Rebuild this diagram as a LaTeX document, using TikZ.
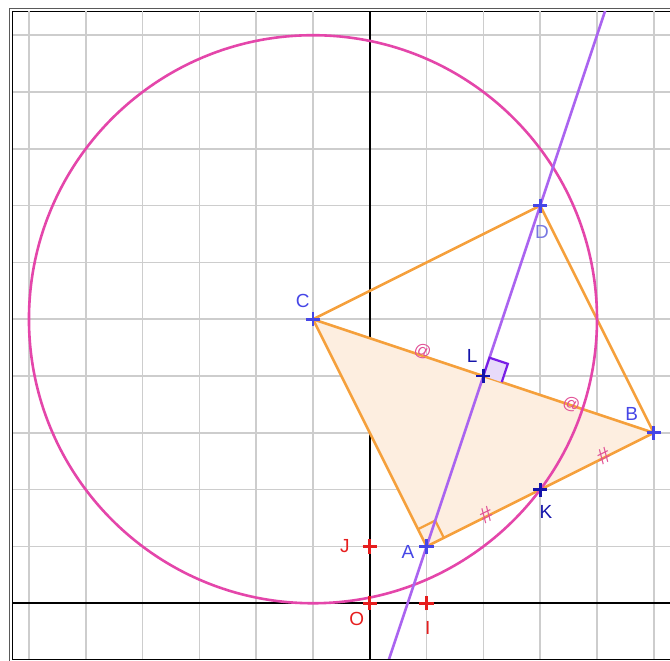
\documentclass[tikz,border=0pt]{standalone}
\usepackage{fontspec}
\setmainfont{Liberation Sans}
\usetikzlibrary{calc}
\definecolor{gridc}{RGB}{205,205,205}
\definecolor{orangec}{RGB}{245,160,60}
\definecolor{fillc}{RGB}{253,238,224}
\definecolor{circc}{RGB}{228,70,170}
\definecolor{purplec}{RGB}{170,100,240}
\definecolor{bluec}{RGB}{70,70,230}
\definecolor{darkc}{RGB}{20,20,170}
\definecolor{redc}{RGB}{230,30,30}
\definecolor{dlabc}{RGB}{120,120,225}
\definecolor{tickc}{RGB}{225,80,150}
\definecolor{raLc}{RGB}{120,30,230}
\definecolor{raLfill}{RGB}{232,218,250}
\definecolor{framec}{RGB}{90,90,90}
\begin{document}
\begin{tikzpicture}[x=1cm,y=1cm,
  gridline/.style={draw=gridc,line width=0.75pt},
  axisline/.style={draw=black,line width=1.2pt},
  orangeedge/.style={draw=orangec,line width=1.3pt,line join=round},
  circ/.style={draw=circc,line width=1.3pt},
  purpleline/.style={draw=purplec,line width=1.3pt},
  crossblue/.style={draw=bluec,line width=1.4pt},
  crossdark/.style={draw=darkc,line width=1.4pt},
  crossred/.style={draw=redc,line width=1.4pt},
  lblblue/.style={text=bluec,font=\fontsize{9.5}{11}\selectfont,inner sep=0pt},
  lbldark/.style={text=darkc,font=\fontsize{9.5}{11}\selectfont,inner sep=0pt},
  lblD/.style={text=dlabc,font=\fontsize{9.5}{11}\selectfont,inner sep=0pt},
  lblred/.style={text=redc,font=\fontsize{9.5}{11}\selectfont,inner sep=0pt},
  atmark/.style={text=tickc,font=\fontsize{8.5}{9}\selectfont,inner sep=0pt},
  hashmark/.style={text=tickc,font=\fontsize{11}{12}\selectfont,inner sep=0pt}
]
\useasboundingbox (-6.51,-1.0) rectangle (5.285,10.62);
% frame
\draw[line width=0.6pt,draw=framec] (5.4,10.475) -| (-6.347,-1.1);
\draw[line width=0.6pt] (5.4,10.42) -| (-6.294,-0.986) -- (5.4,-0.986);
\begin{scope}
\clip (-6.28,-0.975) rectangle (5.4,10.41);
\foreach \x in {-6,...,5} \draw[gridline] (\x,-1.2) -- (\x,10.7);
\foreach \y in {-1,...,10} \draw[gridline] (-6.5,\y) -- (5.4,\y);
\draw[axisline] (0,-1.2) -- (0,10.7);
\draw[axisline] (-6.5,0) -- (5.4,0);
% points
\coordinate (O) at (0,0);
\coordinate (I) at (1,0);
\coordinate (J) at (0,1);
\coordinate (A) at (1,1);
\coordinate (B) at (5,3);
\coordinate (C) at (-1,5);
\coordinate (D) at (3,7);
\coordinate (K) at (3,2);
\coordinate (L) at (2,4);
\coordinate (Lbot) at ({1/3},-1);
\coordinate (Ltop) at ({2+6.7/3},10.7);
% triangle fill
\fill[fillc] (A) -- (B) -- (C) -- cycle;
% quadrilateral and diagonal
\draw[orangeedge] (A) -- (K) -- (B) -- (D) -- (C) -- (A);
\draw[orangeedge] (C) -- (L) -- (B);
% right angle at A
\draw[orangeedge,line width=1.1pt] ($(A)!0.34cm!(B)$) -- ++(-0.152,0.304) -- ($(A)!0.34cm!(C)$);
% circle
\draw[circ] (C) circle (5);
% purple line
\draw[purpleline] (Lbot) -- (Ltop);
% right angle at L
\draw[draw=raLc,fill=raLfill,line width=1.1pt]
  (L) -- ++(0.1075,0.3225) -- ++(0.3225,-0.1075) -- ++(-0.1075,-0.3225);
% equal marks
\node[atmark,rotate=-18.43] (m1) at (0.93,4.43) {@};
\node[atmark,rotate=-18.43] (m2) at (3.55,3.5) {@};
\node[hashmark,rotate=26.57] (m3) at (2.05,1.56) {\#};
\node[hashmark,rotate=26.57] (m4) at (4.12,2.59) {\#};
% crosses
\foreach \p in {A,B,C,D} \draw[crossblue] ([xshift=-0.125cm]\p) -- ([xshift=0.125cm]\p) ([yshift=-0.125cm]\p) -- ([yshift=0.125cm]\p);
\foreach \p in {K,L} \draw[crossdark] ([xshift=-0.125cm]\p) -- ([xshift=0.125cm]\p) ([yshift=-0.125cm]\p) -- ([yshift=0.125cm]\p);
\foreach \p in {O,I,J} \draw[crossred] ([xshift=-0.125cm]\p) -- ([xshift=0.125cm]\p) ([yshift=-0.125cm]\p) -- ([yshift=0.125cm]\p);
\end{scope}
% labels
\node[lblblue] (tA) at (0.67,0.9) {A};
\node[lblblue] (tB) at (4.61,3.33) {B};
\node[lblblue] (tC) at (-1.18,5.33) {C};
\node[lblD] (tD) at (3.03,6.53) {D};
\node[lbldark] (tK) at (3.1,1.6) {K};
\node[lbldark] (tL) at (1.8,4.35) {L};
\node[lblred] (tJ) at (-0.44,1.0) {J};
\node[lblred] (tO) at (-0.23,-0.27) {O};
\node[lblred] (tI) at (1.02,-0.44) {I};
\end{tikzpicture}
\end{document}
